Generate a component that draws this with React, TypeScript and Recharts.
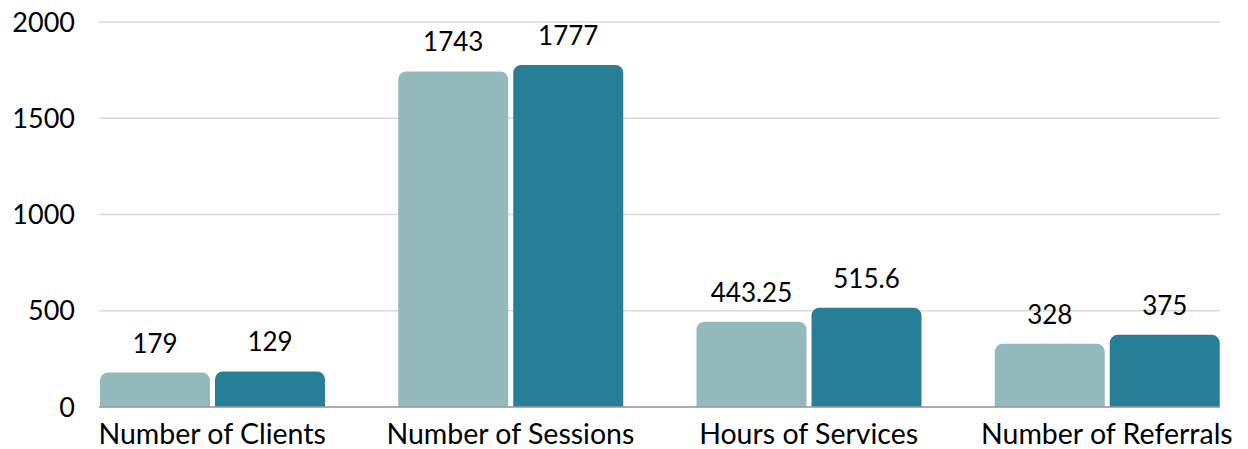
import { BarChart, Bar, XAxis, YAxis, CartesianGrid, LabelList } from 'recharts'

const categories = ['Number of Clients', 'Number of Sessions', 'Hours of Services', 'Number of Referrals']
const seriesA = [179, 1743, 443.25, 328]
const seriesB = [185, 1777, 515.6, 375]
const labelsA = ['179', '1743', '443.25', '328']
const labelsB = ['129', '1777', '515.6', '375']
const yTicks = [0, 500, 1000, 1500, 2000]

const data = categories.map((name, i) => ({
  name,
  a: seriesA[i],
  b: seriesB[i],
  la: labelsA[i],
  lb: labelsB[i],
}))

const FONT = 'Lato, "Open Sans", sans-serif'

export default function App() {
  return (
    <div style={{ position: 'absolute', left: 0, top: 0, background: '#fff' }}>
      <BarChart
        width={1248}
        height={449}
        data={data}
        margin={{ top: 22, right: 28, left: 0, bottom: 12 }}
        barSize={110}
        barGap={5}
      >
        <CartesianGrid vertical={false} stroke="#d9d9d9" strokeWidth={1.5} />
        <XAxis
          dataKey="name"
          height={30}
          padding={{ left: -36, right: -36 }}
          axisLine={{ stroke: '#9a9a9a', strokeWidth: 1.5 }}
          tickLine={false}
          tickSize={0}
          tickMargin={17}
          interval={0}
          tick={{ fontSize: 28.5, fill: '#000', fontFamily: FONT }}
        />
        <YAxis
          width={99}
          domain={[0, 2000]}
          ticks={yTicks}
          axisLine={false}
          tickLine={false}
          tickSize={0}
          tickMargin={24}
          tick={{ fontSize: 27, fill: '#000', fontFamily: FONT }}
        />
        <Bar dataKey="a" fill="#93b9bb" radius={[8, 8, 0, 0]} isAnimationActive={false}>
          <LabelList dataKey="la" position="top" offset={20} fill="#000" fontSize={26} fontFamily={FONT} />
        </Bar>
        <Bar dataKey="b" fill="#267f96" radius={[8, 8, 0, 0]} isAnimationActive={false}>
          <LabelList dataKey="lb" position="top" offset={20} fill="#000" fontSize={26} fontFamily={FONT} />
        </Bar>
      </BarChart>
    </div>
  )
}
